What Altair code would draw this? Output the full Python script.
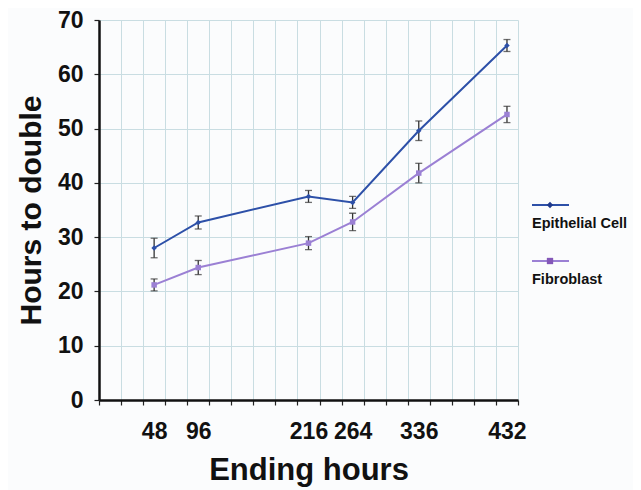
import altair as alt
import pandas as pd

# ---- data ----
hours = [48, 96, 216, 264, 336, 432]
epithelial = [28.0, 32.7, 37.5, 36.4, 49.6, 65.3]
epithelial_err = [1.8, 1.2, 1.1, 1.1, 1.8, 1.1]
fibroblast = [21.2, 24.4, 28.9, 32.8, 41.8, 52.6]
fibroblast_err = [1.1, 1.3, 1.2, 1.6, 1.8, 1.5]
series_names = ["Epithelial Cell", "Fibroblast"]
series_colors = ["#2d50a8", "#9b80d4"]
marker_colors = ["#1f3a8c", "#8457b8"]
grid_ticks = list(range(-12, 445, 24))
y_ticks = list(range(0, 71, 10))

rows = []
for h, v, e in zip(hours, epithelial, epithelial_err):
    rows.append({"hours": h, "value": v, "lo": v - e, "hi": v + e, "series": series_names[0]})
for h, v, e in zip(hours, fibroblast, fibroblast_err):
    rows.append({"hours": h, "value": v, "lo": v - e, "hi": v + e, "series": series_names[1]})
df = pd.DataFrame(rows)

FONT = "Liberation Sans"
xscale = alt.Scale(domain=[-12, 444], nice=False, zero=False)
yscale = alt.Scale(domain=[0, 70], nice=False)
color = alt.Color("series:N", scale=alt.Scale(domain=series_names, range=series_colors), legend=None)

yaxis = alt.Axis(values=y_ticks, grid=True, gridColor="#c9dde2", gridWidth=1,
                 tickSize=5, tickColor="#222", tickWidth=1.2, domainColor="#111",
                 domainWidth=2.5, labelFont=FONT, labelFontSize=23,
                 labelFontWeight="bold", labelColor="#111", labelPadding=11,
                 title="Hours to double", titleFont=FONT, titleFontSize=30,
                 titleFontWeight="bold", titleColor="#111", titlePadding=11)
Y = alt.Y("value:Q", scale=yscale, axis=yaxis)

base = alt.Chart(df)

# axis with grid + ticks (no labels)
grid_layer = base.mark_line(opacity=0).encode(
    x=alt.X("hours:Q", scale=xscale,
            axis=alt.Axis(orient="bottom", values=grid_ticks, labels=False, title=None, grid=True,
                          gridColor="#c9dde2", gridWidth=1, ticks=True, tickSize=5,
                          tickColor="#222", tickWidth=1.2, domain=True, domainColor="#111",
                          domainWidth=2.5)),
    y=Y,
)

# axis with the labels at data hours
label_layer = base.mark_line(opacity=0).encode(
    x=alt.X("hours:Q", scale=xscale,
            axis=alt.Axis(orient="bottom", values=hours, grid=False, ticks=False, domain=False,
                          labelFont=FONT, labelFontSize=23, labelFontWeight="bold",
                          labelColor="#111", labelPadding=20,
                          title="Ending hours", titleFont=FONT, titleFontSize=31,
                          titleFontWeight="bold", titleColor="#111", titlePadding=12)),
    y=Y,
)

X0 = alt.X("hours:Q", scale=xscale, axis=None)

lines = base.mark_line(strokeWidth=2).encode(x=X0, y=Y, color=color)

err_rule = base.mark_rule(color="#333", strokeWidth=1.3).encode(
    x=X0, y=alt.Y("lo:Q", scale=yscale, axis=yaxis), y2="hi:Q")
cap_lo = base.mark_tick(color="#333", orient="horizontal", size=7, thickness=1.3).encode(
    x=X0, y=alt.Y("lo:Q", scale=yscale, axis=yaxis))
cap_hi = base.mark_tick(color="#333", orient="horizontal", size=7, thickness=1.3).encode(
    x=X0, y=alt.Y("hi:Q", scale=yscale, axis=yaxis))

pts = base.mark_point(filled=True, size=30, opacity=1).encode(
    x=X0, y=Y,
    color=alt.Color("series:N", scale=alt.Scale(domain=series_names, range=marker_colors), legend=None),
    shape=alt.Shape("series:N", scale=alt.Scale(domain=series_names, range=["diamond", "square"]), legend=None),
)

# manual legend (symbol line above, label below)
leg = []
for i, name in enumerate(series_names):
    d = alt.Chart(pd.DataFrame({"label": [name]}))
    ly = 185 + i * 56
    leg.append(d.mark_rule(color=series_colors[i], strokeWidth=2).encode(
        x=alt.value(433), x2=alt.value(470), y=alt.value(ly)))
    leg.append(d.mark_point(filled=True, size=40, opacity=1, color=marker_colors[i],
                            shape=["diamond", "square"][i]).encode(
        x=alt.value(451), y=alt.value(ly)))
    leg.append(d.mark_text(align="left", baseline="middle", font=FONT, fontSize=14.5,
                           fontWeight="bold", color="#111").encode(
        x=alt.value(433), y=alt.value(ly + 19), text="label:N"))

chart = alt.layer(grid_layer, label_layer, lines, err_rule, cap_lo, cap_hi, pts, *leg).resolve_axis(
    x="independent"
).properties(
    width=419, height=380,
    autosize=alt.AutoSizeParams(type="none"),
    padding={"left": 91, "top": 12, "right": 115, "bottom": 90},
    background="#fbfcfd",
).configure_view(stroke=None)

chart.save("out.html", embed_options={"renderer": "svg", "actions": False})
